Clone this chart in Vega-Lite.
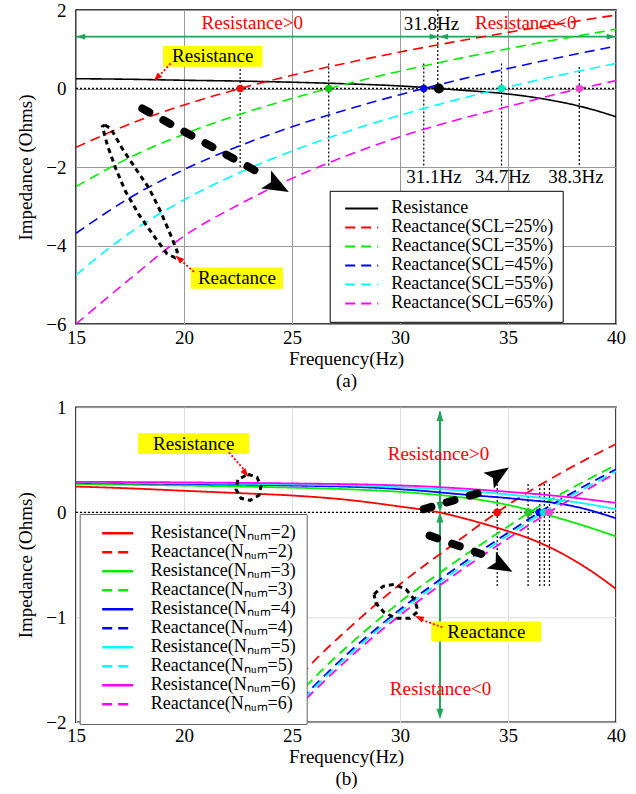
{
"$schema":"https://vega.github.io/schema/vega-lite/v6.json",
"padding":{"left":16,"top":0,"right":0,"bottom":0},
"background":"white",
"spacing":83.3,
"bounds":"flush",
"config":{"font":"Liberation Serif","view":{"stroke":"black","strokeWidth":1.5},
 "axis":{"labelFont":"Liberation Serif","labelFontSize":19,"labelColor":"black","titleFont":"Liberation Serif","titleFontSize":19,"titleFontWeight":"normal","titleColor":"black","domain":false,"ticks":false,"labelFlush":false},
 "legend":{"labelFont":"Liberation Serif","labelColor":"black","labelFontSize":18,"labelLimit":400}},
"resolve":{"scale":{"x":"independent","y":"independent","color":"independent","strokeDash":"independent","fill":"independent","angle":"independent"},"legend":{"color":"independent","strokeDash":"independent"}},
"vconcat":[
{
 "width":540,"height":314,
 "encoding":{
  "x":{"field":"f","type":"quantitative","scale":{"domain":[15,40],"nice":false,"zero":false},
   "axis":{"title":["Frequency(Hz)","(a)"],"values":[15,20,25,30,35,40],"grid":true,"gridColor":"#999999","labelPadding":4,"titlePadding":2,"titleLineHeight":22}},
  "y":{"field":"v","type":"quantitative","scale":{"domain":[-6,2],"nice":false,"zero":false},
   "axis":{"title":"Impedance (Ohms)","values":[-6,-4,-2,0,2],"grid":true,"gridColor":"#999999","labelPadding":10,"titlePadding":10}}
 },
 "layer":[
  {"data":{"values":[{"f":15,"f2":40,"v":0}]},"mark":{"type":"rule","color":"black","strokeDash":[2,2],"strokeWidth":1.3},"encoding":{"x2":{"field":"f2"}}},
  {"data":{"values":[{"f":22.6,"v":0.6,"v2":-2},{"f":26.7,"v":0.64,"v2":-2},{"f":31.1,"v":0.64,"v2":-2},{"f":31.75,"v":2,"v2":0},{"f":34.7,"v":0.64,"v2":-2},{"f":38.3,"v":0.55,"v2":-2}]},
   "mark":{"type":"rule","color":"black","strokeDash":[2,2],"strokeWidth":1.2},"encoding":{"y2":{"field":"v2"}}},
  {"data":{"values":[{"f":15,"f2":31.8,"v":1.32},{"f":31.8,"f2":40,"v":1.32}]},"mark":{"type":"rule","color":"#21a35a","strokeWidth":1.8},"encoding":{"x2":{"field":"f2"}}},
  {"data":{"values":[{"f":15.22,"v":1.32,"a":180},{"f":31.58,"v":1.32,"a":0},{"f":32.02,"v":1.32,"a":180},{"f":39.78,"v":1.32,"a":0}]},
   "mark":{"type":"point","shape":"M1,0L-1,-0.65L-1,0.65Z","filled":true,"color":"#21a35a","size":80,"opacity":1},
   "encoding":{"angle":{"field":"a","type":"quantitative","scale":{"domain":[0,360],"range":[0,360]}}}},
  {"data":{"values":[
   {"s":"Resistance","f":15,"v":0.25},{"s":"Resistance","f":17.5,"v":0.235},{"s":"Resistance","f":20,"v":0.21},{"s":"Resistance","f":22.5,"v":0.19},{"s":"Resistance","f":25,"v":0.16},{"s":"Resistance","f":27.5,"v":0.12},{"s":"Resistance","f":30,"v":0.065},{"s":"Resistance","f":31.8,"v":0},{"s":"Resistance","f":33,"v":-0.05},{"s":"Resistance","f":34,"v":-0.09},{"s":"Resistance","f":35,"v":-0.14},{"s":"Resistance","f":36,"v":-0.21},{"s":"Resistance","f":37,"v":-0.3},{"s":"Resistance","f":38,"v":-0.41},{"s":"Resistance","f":39,"v":-0.55},{"s":"Resistance","f":40,"v":-0.72},
   {"s":"Reactance(SCL=25%)","f":15,"v":-1.5},{"s":"Reactance(SCL=25%)","f":17.5,"v":-0.902},{"s":"Reactance(SCL=25%)","f":20,"v":-0.42},{"s":"Reactance(SCL=25%)","f":22.5,"v":-0.015},{"s":"Reactance(SCL=25%)","f":25,"v":0.336},{"s":"Reactance(SCL=25%)","f":27.5,"v":0.647},{"s":"Reactance(SCL=25%)","f":30,"v":0.929},{"s":"Reactance(SCL=25%)","f":32.5,"v":1.188},{"s":"Reactance(SCL=25%)","f":35,"v":1.429},{"s":"Reactance(SCL=25%)","f":37.5,"v":1.656},{"s":"Reactance(SCL=25%)","f":40,"v":1.871},
   {"s":"Reactance(SCL=35%)","f":15,"v":-2.5},{"s":"Reactance(SCL=35%)","f":17.5,"v":-1.755},{"s":"Reactance(SCL=35%)","f":20,"v":-1.163},{"s":"Reactance(SCL=35%)","f":22.5,"v":-0.673},{"s":"Reactance(SCL=35%)","f":25,"v":-0.254},{"s":"Reactance(SCL=35%)","f":27.5,"v":0.113},{"s":"Reactance(SCL=35%)","f":30,"v":0.441},{"s":"Reactance(SCL=35%)","f":32.5,"v":0.739},{"s":"Reactance(SCL=35%)","f":35,"v":1.014},{"s":"Reactance(SCL=35%)","f":37.5,"v":1.269},{"s":"Reactance(SCL=35%)","f":40,"v":1.51},
   {"s":"Reactance(SCL=45%)","f":15,"v":-3.69},{"s":"Reactance(SCL=45%)","f":17.5,"v":-2.782},{"s":"Reactance(SCL=45%)","f":20,"v":-2.065},{"s":"Reactance(SCL=45%)","f":22.5,"v":-1.476},{"s":"Reactance(SCL=45%)","f":25,"v":-0.977},{"s":"Reactance(SCL=45%)","f":27.5,"v":-0.543},{"s":"Reactance(SCL=45%)","f":30,"v":-0.157},{"s":"Reactance(SCL=45%)","f":32.5,"v":0.191},{"s":"Reactance(SCL=45%)","f":35,"v":0.509},{"s":"Reactance(SCL=45%)","f":37.5,"v":0.804},{"s":"Reactance(SCL=45%)","f":40,"v":1.08},
   {"s":"Reactance(SCL=55%)","f":15,"v":-4.75},{"s":"Reactance(SCL=55%)","f":17.5,"v":-3.674},{"s":"Reactance(SCL=55%)","f":20,"v":-2.837},{"s":"Reactance(SCL=55%)","f":22.5,"v":-2.159},{"s":"Reactance(SCL=55%)","f":25,"v":-1.592},{"s":"Reactance(SCL=55%)","f":27.5,"v":-1.106},{"s":"Reactance(SCL=55%)","f":30,"v":-0.681},{"s":"Reactance(SCL=55%)","f":32.5,"v":-0.302},{"s":"Reactance(SCL=55%)","f":35,"v":0.039},{"s":"Reactance(SCL=55%)","f":37.5,"v":0.352},{"s":"Reactance(SCL=55%)","f":40,"v":0.64},
   {"s":"Reactance(SCL=65%)","f":15,"v":-6.0},{"s":"Reactance(SCL=65%)","f":17.5,"v":-4.85},{"s":"Reactance(SCL=65%)","f":20,"v":-3.76},{"s":"Reactance(SCL=65%)","f":22.5,"v":-2.97},{"s":"Reactance(SCL=65%)","f":25,"v":-2.29},{"s":"Reactance(SCL=65%)","f":27.5,"v":-1.72},{"s":"Reactance(SCL=65%)","f":30,"v":-1.23},{"s":"Reactance(SCL=65%)","f":32.5,"v":-0.82},{"s":"Reactance(SCL=65%)","f":35,"v":-0.46},{"s":"Reactance(SCL=65%)","f":37.5,"v":-0.11},{"s":"Reactance(SCL=65%)","f":40,"v":0.2}
  ]},
   "mark":{"type":"line","interpolate":"monotone","strokeWidth":1.6,"clip":true},
   "encoding":{
    "color":{"field":"s","type":"nominal","scale":{"domain":["Resistance","Reactance(SCL=25%)","Reactance(SCL=35%)","Reactance(SCL=45%)","Reactance(SCL=55%)","Reactance(SCL=65%)"],"range":["#000000","#ff0000","#00ee00","#0000ff","#00ffff","#ff00ff"]},
     "legend":{"title":null,"orient":"none","legendX":253.7,"legendY":180.8,"padding":8.5,"strokeColor":"black","fillColor":"white","symbolType":"stroke","symbolSize":1089,"symbolStrokeWidth":2,"symbolOffset":6,"labelOffset":12,"clipHeight":18.3,"rowPadding":-1.6,"labelExpr":"datum.label + '\u00a0\u00a0\u00a0\u00a0\u00a0\u00a0\u00a0'"}},
    "strokeDash":{"field":"s","type":"nominal","scale":{"domain":["Resistance","Reactance(SCL=25%)","Reactance(SCL=35%)","Reactance(SCL=45%)","Reactance(SCL=55%)","Reactance(SCL=65%)"],"range":[[1,0],[10,6],[10,6],[10,6],[10,6],[10,6]]},
     "legend":{"title":null,"orient":"none","legendX":253.7,"legendY":180.8,"padding":8.5,"strokeColor":"black","fillColor":"white","symbolType":"stroke","symbolSize":1089,"symbolStrokeWidth":2,"symbolOffset":6,"labelOffset":12,"clipHeight":18.3,"rowPadding":-1.6,"labelExpr":"datum.label + '\u00a0\u00a0\u00a0\u00a0\u00a0\u00a0\u00a0'"}}
   }},
  {"data":{"values":[{"f":22.6,"v":0,"k":"r"},{"f":26.7,"v":0,"k":"g"},{"f":31.1,"v":0,"k":"b"},{"f":34.7,"v":0,"k":"c"},{"f":38.3,"v":0,"k":"m"}]},
   "mark":{"type":"point","filled":true,"size":55,"opacity":1},
   "encoding":{"fill":{"field":"k","type":"nominal","scale":{"domain":["r","g","b","c","m"],"range":["#ff0000","#00cc00","#0000ff","#00e8c0","#ee44cc"]},"legend":null}}},
  {"data":{"values":[{"f":31.8,"v":0}]},"mark":{"type":"point","filled":true,"size":100,"color":"black","opacity":1}},
  {"data":{"values":[{"f":23.16,"v":1.68,"t":"Resistance>0"},{"f":35.82,"v":1.68,"t":"Resistance<0"}]},
   "mark":{"type":"text","color":"#ff0000","fontSize":19,"align":"center","baseline":"middle"},"encoding":{"text":{"field":"t"}}},
  {"data":{"values":[{"f":31.46,"v":1.65,"t":"31.8Hz"},{"f":31.57,"v":-2.26,"t":"31.1Hz"},{"f":34.75,"v":-2.26,"t":"34.7Hz"},{"f":38.15,"v":-2.26,"t":"38.3Hz"}]},
   "mark":{"type":"text","color":"black","fontSize":19,"align":"center","baseline":"middle"},"encoding":{"text":{"field":"t"}}},
  {"data":{"values":[{"f":19.03,"f2":23.63,"v":0.552,"v2":1.085},{"f":20.31,"f2":24.58,"v":-4.56,"v2":-5.1}]},
   "mark":{"type":"rect","color":"#ffff00","opacity":1},"encoding":{"x2":{"field":"f2"},"y2":{"field":"v2"}}},
  {"data":{"values":[{"f":21.33,"v":0.82,"t":"Resistance"},{"f":22.45,"v":-4.83,"t":"Reactance"}]},
   "mark":{"type":"text","color":"black","fontSize":19,"align":"center","baseline":"middle"},"encoding":{"text":{"field":"t"}}},
  {"data":{"values":[{"f":19.38,"v":0.64,"f2":18.8,"v2":0.29},{"f":20.46,"v":-4.67,"f2":19.8,"v2":-4.35}]},
   "mark":{"type":"rule","color":"#ff0000","strokeDash":[2,2],"strokeWidth":1.8},"encoding":{"x2":{"field":"f2"},"y2":{"field":"v2"}}},
  {"data":{"values":[{"f":18.74,"v":0.27,"a":135},{"f":19.76,"v":-4.33,"a":221}]},
   "mark":{"type":"point","shape":"M1,0L-1,-0.7L-1,0.7Z","filled":true,"color":"#ff0000","size":80,"opacity":1},
   "encoding":{"angle":{"field":"a","type":"quantitative","scale":{"domain":[0,360],"range":[0,360]}}}},
  {"data":{"values":[{"f":18.07,"v":-0.51,"f2":23.56,"v2":-2.17}]},
   "mark":{"type":"rule","color":"black","strokeWidth":8,"strokeCap":"round","strokeDash":[8,16]},"encoding":{"x2":{"field":"f2"},"y2":{"field":"v2"}}},
  {"data":{"values":[{"f":24.3,"v":-2.47,"a":29}]},
   "mark":{"type":"point","shape":"M1,0L-0.9,-0.75L-0.5,0L-0.9,0.75Z","filled":true,"color":"black","size":750,"opacity":1},
   "encoding":{"angle":{"field":"a","type":"quantitative","scale":{"domain":[0,360],"range":[0,360]}}}},
  {"data":{"values":[
   {"o":1,"f":16.34,"v":-0.93},{"o":2,"f":16.61,"v":-1.02},{"o":3,"f":17.14,"v":-1.53},{"o":4,"f":17.76,"v":-2.04},{"o":5,"f":18.38,"v":-2.54},{"o":6,"f":18.92,"v":-3.14},{"o":7,"f":19.38,"v":-3.73},{"o":8,"f":19.69,"v":-4.16},{"o":9,"f":19.58,"v":-4.31},{"o":10,"f":19.21,"v":-4.21},{"o":11,"f":18.69,"v":-3.82},{"o":12,"f":17.92,"v":-3.22},{"o":13,"f":17.3,"v":-2.63},{"o":14,"f":16.84,"v":-2.04},{"o":15,"f":16.45,"v":-1.44},{"o":16,"f":16.22,"v":-0.97},{"o":17,"f":16.34,"v":-0.93}]},
   "mark":{"type":"line","color":"black","strokeWidth":3,"strokeDash":[5,4],"interpolate":"linear"},
   "encoding":{"order":{"field":"o","type":"quantitative"}}}
 ]
},
{
 "width":540,"height":315,
 "encoding":{
  "x":{"field":"f","type":"quantitative","scale":{"domain":[15,40],"nice":false,"zero":false},
   "axis":{"title":["Frequency(Hz)","(b)"],"values":[15,20,25,30,35,40],"grid":true,"gridColor":"#dddddd","labelPadding":4,"titlePadding":2,"titleLineHeight":22}},
  "y":{"field":"v","type":"quantitative","scale":{"domain":[-2,1],"nice":false,"zero":false},
   "axis":{"title":"Impedance (Ohms)","values":[-2,-1,0,1],"grid":true,"gridColor":"#dddddd","labelPadding":10,"titlePadding":10}}
 },
 "layer":[
  {"data":{"values":[{"f":15,"f2":40,"v":0}]},"mark":{"type":"rule","color":"black","strokeDash":[2,2],"strokeWidth":1.3},"encoding":{"x2":{"field":"f2"}}},
  {"data":{"values":[{"f":34.5,"v":0.27,"v2":-0.71},{"f":35.93,"v":0.27,"v2":-0.71},{"f":36.47,"v":0.27,"v2":-0.71},{"f":36.68,"v":0.27,"v2":-0.71},{"f":36.92,"v":0.27,"v2":-0.71}]},
   "mark":{"type":"rule","color":"black","strokeDash":[2,2],"strokeWidth":1.2},"encoding":{"y2":{"field":"v2"}}},
  {"data":{"values":[{"f":31.85,"v":0.96,"v2":0.02},{"f":31.85,"v":-0.02,"v2":-1.95}]},"mark":{"type":"rule","color":"#21a35a","strokeWidth":2},"encoding":{"y2":{"field":"v2"}}},
  {"data":{"values":[{"f":31.85,"v":0.92,"a":270},{"f":31.85,"v":0.048,"a":90},{"f":31.85,"v":-0.048,"a":270},{"f":31.85,"v":-1.92,"a":90}]},
   "mark":{"type":"point","shape":"M1,0L-1,-0.65L-1,0.65Z","filled":true,"color":"#21a35a","size":110,"opacity":1},
   "encoding":{"angle":{"field":"a","type":"quantitative","scale":{"domain":[0,360],"range":[0,360]}}}},
  {"data":{"values":[
   {"s":"Resistance(N\u2099\u1d64\u2098=2)","f":15,"v":0.245},{"s":"Resistance(N\u2099\u1d64\u2098=2)","f":17.5,"v":0.228},{"s":"Resistance(N\u2099\u1d64\u2098=2)","f":20,"v":0.205},{"s":"Resistance(N\u2099\u1d64\u2098=2)","f":22.5,"v":0.183},{"s":"Resistance(N\u2099\u1d64\u2098=2)","f":25,"v":0.16},{"s":"Resistance(N\u2099\u1d64\u2098=2)","f":27.5,"v":0.12},{"s":"Resistance(N\u2099\u1d64\u2098=2)","f":30,"v":0.055},{"s":"Resistance(N\u2099\u1d64\u2098=2)","f":31.8,"v":0},{"s":"Resistance(N\u2099\u1d64\u2098=2)","f":33,"v":-0.06},{"s":"Resistance(N\u2099\u1d64\u2098=2)","f":35,"v":-0.18},{"s":"Resistance(N\u2099\u1d64\u2098=2)","f":36,"v":-0.25},{"s":"Resistance(N\u2099\u1d64\u2098=2)","f":37,"v":-0.34},{"s":"Resistance(N\u2099\u1d64\u2098=2)","f":38,"v":-0.45},{"s":"Resistance(N\u2099\u1d64\u2098=2)","f":39,"v":-0.58},{"s":"Resistance(N\u2099\u1d64\u2098=2)","f":40,"v":-0.73},
   {"s":"Reactance(N\u2099\u1d64\u2098=2)","f":23.43,"v":-2.0},{"s":"Reactance(N\u2099\u1d64\u2098=2)","f":25,"v":-1.645},{"s":"Reactance(N\u2099\u1d64\u2098=2)","f":26.2,"v":-1.38},{"s":"Reactance(N\u2099\u1d64\u2098=2)","f":27.5,"v":-1.13},{"s":"Reactance(N\u2099\u1d64\u2098=2)","f":30,"v":-0.685},{"s":"Reactance(N\u2099\u1d64\u2098=2)","f":32.5,"v":-0.3},{"s":"Reactance(N\u2099\u1d64\u2098=2)","f":34.5,"v":0},{"s":"Reactance(N\u2099\u1d64\u2098=2)","f":35,"v":0.07},{"s":"Reactance(N\u2099\u1d64\u2098=2)","f":37.5,"v":0.38},{"s":"Reactance(N\u2099\u1d64\u2098=2)","f":40,"v":0.65},
   {"s":"Resistance(N\u2099\u1d64\u2098=3)","f":15,"v":0.27},{"s":"Resistance(N\u2099\u1d64\u2098=3)","f":20,"v":0.255},{"s":"Resistance(N\u2099\u1d64\u2098=3)","f":25,"v":0.235},{"s":"Resistance(N\u2099\u1d64\u2098=3)","f":27.5,"v":0.22},{"s":"Resistance(N\u2099\u1d64\u2098=3)","f":30,"v":0.195},{"s":"Resistance(N\u2099\u1d64\u2098=3)","f":32.5,"v":0.15},{"s":"Resistance(N\u2099\u1d64\u2098=3)","f":33.5,"v":0.125},{"s":"Resistance(N\u2099\u1d64\u2098=3)","f":34.5,"v":0.09},{"s":"Resistance(N\u2099\u1d64\u2098=3)","f":35,"v":0.07},{"s":"Resistance(N\u2099\u1d64\u2098=3)","f":36,"v":0.02},{"s":"Resistance(N\u2099\u1d64\u2098=3)","f":37,"v":-0.035},{"s":"Resistance(N\u2099\u1d64\u2098=3)","f":38,"v":-0.095},{"s":"Resistance(N\u2099\u1d64\u2098=3)","f":39,"v":-0.16},{"s":"Resistance(N\u2099\u1d64\u2098=3)","f":40,"v":-0.23},
   {"s":"Reactance(N\u2099\u1d64\u2098=3)","f":24.1,"v":-2.0},{"s":"Reactance(N\u2099\u1d64\u2098=3)","f":25,"v":-1.8},{"s":"Reactance(N\u2099\u1d64\u2098=3)","f":26.3,"v":-1.52},{"s":"Reactance(N\u2099\u1d64\u2098=3)","f":27.5,"v":-1.29},{"s":"Reactance(N\u2099\u1d64\u2098=3)","f":30,"v":-0.855},{"s":"Reactance(N\u2099\u1d64\u2098=3)","f":32.5,"v":-0.48},{"s":"Reactance(N\u2099\u1d64\u2098=3)","f":35,"v":-0.135},{"s":"Reactance(N\u2099\u1d64\u2098=3)","f":36,"v":0},{"s":"Reactance(N\u2099\u1d64\u2098=3)","f":37.5,"v":0.18},{"s":"Reactance(N\u2099\u1d64\u2098=3)","f":40,"v":0.45},
   {"s":"Resistance(N\u2099\u1d64\u2098=4)","f":15,"v":0.28},{"s":"Resistance(N\u2099\u1d64\u2098=4)","f":20,"v":0.27},{"s":"Resistance(N\u2099\u1d64\u2098=4)","f":25,"v":0.255},{"s":"Resistance(N\u2099\u1d64\u2098=4)","f":29,"v":0.232},{"s":"Resistance(N\u2099\u1d64\u2098=4)","f":31,"v":0.205},{"s":"Resistance(N\u2099\u1d64\u2098=4)","f":33,"v":0.168},{"s":"Resistance(N\u2099\u1d64\u2098=4)","f":35,"v":0.135},{"s":"Resistance(N\u2099\u1d64\u2098=4)","f":36,"v":0.115},{"s":"Resistance(N\u2099\u1d64\u2098=4)","f":37.3,"v":0.086},{"s":"Resistance(N\u2099\u1d64\u2098=4)","f":38.5,"v":0.035},{"s":"Resistance(N\u2099\u1d64\u2098=4)","f":40,"v":-0.057},
   {"s":"Reactance(N\u2099\u1d64\u2098=4)","f":24.4,"v":-2.0},{"s":"Reactance(N\u2099\u1d64\u2098=4)","f":25,"v":-1.87},{"s":"Reactance(N\u2099\u1d64\u2098=4)","f":27.5,"v":-1.36},{"s":"Reactance(N\u2099\u1d64\u2098=4)","f":30,"v":-0.925},{"s":"Reactance(N\u2099\u1d64\u2098=4)","f":32.5,"v":-0.545},{"s":"Reactance(N\u2099\u1d64\u2098=4)","f":35,"v":-0.195},{"s":"Reactance(N\u2099\u1d64\u2098=4)","f":36.45,"v":0},{"s":"Reactance(N\u2099\u1d64\u2098=4)","f":37.5,"v":0.13},{"s":"Reactance(N\u2099\u1d64\u2098=4)","f":40,"v":0.41},
   {"s":"Resistance(N\u2099\u1d64\u2098=5)","f":15,"v":0.285},{"s":"Resistance(N\u2099\u1d64\u2098=5)","f":20,"v":0.277},{"s":"Resistance(N\u2099\u1d64\u2098=5)","f":25,"v":0.265},{"s":"Resistance(N\u2099\u1d64\u2098=5)","f":29,"v":0.248},{"s":"Resistance(N\u2099\u1d64\u2098=5)","f":31,"v":0.23},{"s":"Resistance(N\u2099\u1d64\u2098=5)","f":33,"v":0.205},{"s":"Resistance(N\u2099\u1d64\u2098=5)","f":35,"v":0.17},{"s":"Resistance(N\u2099\u1d64\u2098=5)","f":37.3,"v":0.12},{"s":"Resistance(N\u2099\u1d64\u2098=5)","f":38.5,"v":0.085},{"s":"Resistance(N\u2099\u1d64\u2098=5)","f":40,"v":0.03},
   {"s":"Reactance(N\u2099\u1d64\u2098=5)","f":24.5,"v":-2.0},{"s":"Reactance(N\u2099\u1d64\u2098=5)","f":25,"v":-1.89},{"s":"Reactance(N\u2099\u1d64\u2098=5)","f":27.5,"v":-1.385},{"s":"Reactance(N\u2099\u1d64\u2098=5)","f":30,"v":-0.95},{"s":"Reactance(N\u2099\u1d64\u2098=5)","f":32.5,"v":-0.57},{"s":"Reactance(N\u2099\u1d64\u2098=5)","f":35,"v":-0.22},{"s":"Reactance(N\u2099\u1d64\u2098=5)","f":36.65,"v":0},{"s":"Reactance(N\u2099\u1d64\u2098=5)","f":37.5,"v":0.105},{"s":"Reactance(N\u2099\u1d64\u2098=5)","f":40,"v":0.39},
   {"s":"Resistance(N\u2099\u1d64\u2098=6)","f":15,"v":0.29},{"s":"Resistance(N\u2099\u1d64\u2098=6)","f":20,"v":0.285},{"s":"Resistance(N\u2099\u1d64\u2098=6)","f":25,"v":0.275},{"s":"Resistance(N\u2099\u1d64\u2098=6)","f":29,"v":0.262},{"s":"Resistance(N\u2099\u1d64\u2098=6)","f":31,"v":0.248},{"s":"Resistance(N\u2099\u1d64\u2098=6)","f":33,"v":0.225},{"s":"Resistance(N\u2099\u1d64\u2098=6)","f":35,"v":0.195},{"s":"Resistance(N\u2099\u1d64\u2098=6)","f":37.3,"v":0.155},{"s":"Resistance(N\u2099\u1d64\u2098=6)","f":38.5,"v":0.128},{"s":"Resistance(N\u2099\u1d64\u2098=6)","f":40,"v":0.089},
   {"s":"Reactance(N\u2099\u1d64\u2098=6)","f":24.65,"v":-2.0},{"s":"Reactance(N\u2099\u1d64\u2098=6)","f":25,"v":-1.92},{"s":"Reactance(N\u2099\u1d64\u2098=6)","f":27.5,"v":-1.415},{"s":"Reactance(N\u2099\u1d64\u2098=6)","f":30,"v":-0.98},{"s":"Reactance(N\u2099\u1d64\u2098=6)","f":32.5,"v":-0.6},{"s":"Reactance(N\u2099\u1d64\u2098=6)","f":35,"v":-0.25},{"s":"Reactance(N\u2099\u1d64\u2098=6)","f":36.9,"v":0},{"s":"Reactance(N\u2099\u1d64\u2098=6)","f":37.5,"v":0.075},{"s":"Reactance(N\u2099\u1d64\u2098=6)","f":40,"v":0.375}
  ]},
   "mark":{"type":"line","interpolate":"monotone","strokeWidth":1.8,"clip":true},
   "encoding":{
    "color":{"field":"s","type":"nominal","scale":{"domain":["Resistance(N\u2099\u1d64\u2098=2)","Reactance(N\u2099\u1d64\u2098=2)","Resistance(N\u2099\u1d64\u2098=3)","Reactance(N\u2099\u1d64\u2098=3)","Resistance(N\u2099\u1d64\u2098=4)","Reactance(N\u2099\u1d64\u2098=4)","Resistance(N\u2099\u1d64\u2098=5)","Reactance(N\u2099\u1d64\u2098=5)","Resistance(N\u2099\u1d64\u2098=6)","Reactance(N\u2099\u1d64\u2098=6)"],"range":["#ff0000","#ff0000","#00ee00","#00ee00","#0000ff","#0000ff","#00ffff","#00ffff","#ff00ff","#ff00ff"]},
     "legend":{"title":null,"orient":"none","legendX":3.7,"legendY":106.7,"padding":10,"strokeColor":"#666666","fillColor":"white","symbolType":"stroke","symbolSize":961,"symbolStrokeWidth":2.5,"symbolOffset":11,"labelOffset":16,"clipHeight":18.4,"rowPadding":-1.6}},
    "strokeDash":{"field":"s","type":"nominal","scale":{"domain":["Resistance(N\u2099\u1d64\u2098=2)","Reactance(N\u2099\u1d64\u2098=2)","Resistance(N\u2099\u1d64\u2098=3)","Reactance(N\u2099\u1d64\u2098=3)","Resistance(N\u2099\u1d64\u2098=4)","Reactance(N\u2099\u1d64\u2098=4)","Resistance(N\u2099\u1d64\u2098=5)","Reactance(N\u2099\u1d64\u2098=5)","Resistance(N\u2099\u1d64\u2098=6)","Reactance(N\u2099\u1d64\u2098=6)"],"range":[[1,0],[10,6],[1,0],[10,6],[1,0],[10,6],[1,0],[10,6],[1,0],[10,6]]},
     "legend":{"title":null,"orient":"none","legendX":3.7,"legendY":106.7,"padding":10,"strokeColor":"#666666","fillColor":"white","symbolType":"stroke","symbolSize":961,"symbolStrokeWidth":2.5,"symbolOffset":11,"labelOffset":16,"clipHeight":18.4,"rowPadding":-1.6}}
   }},
  {"data":{"values":[{"f":34.5,"v":0,"k":"r"},{"f":35.95,"v":0,"k":"g"},{"f":36.45,"v":0,"k":"b"},{"f":36.65,"v":0,"k":"c"},{"f":36.9,"v":0,"k":"m"}]},
   "mark":{"type":"point","filled":true,"size":60,"opacity":1},
   "encoding":{"fill":{"field":"k","type":"nominal","scale":{"domain":["r","g","b","c","m"],"range":["#ff0000","#22cc22","#0000ff","#00ddcc","#ee44cc"]},"legend":null}}},
  {"data":{"values":[{"f":31.78,"v":0.555,"t":"Resistance>0"},{"f":31.88,"v":-1.68,"t":"Resistance<0"}]},
   "mark":{"type":"text","color":"#ff0000","fontSize":19,"align":"center","baseline":"middle"},"encoding":{"text":{"field":"t"}}},
  {"data":{"values":[{"f":17.88,"f2":23.02,"v":0.555,"v2":0.752},{"f":31.45,"f2":36.54,"v":-1.041,"v2":-1.231}]},
   "mark":{"type":"rect","color":"#ffff00","opacity":1},"encoding":{"x2":{"field":"f2"},"y2":{"field":"v2"}}},
  {"data":{"values":[{"f":20.45,"v":0.654,"t":"Resistance"},{"f":34.0,"v":-1.136,"t":"Reactance"}]},
   "mark":{"type":"text","color":"black","fontSize":19,"align":"center","baseline":"middle"},"encoding":{"text":{"field":"t"}}},
  {"data":{"values":[{"f":22.08,"v":0.571,"f2":22.8,"v2":0.4},{"f":31.96,"v":-1.095,"f2":30.95,"v2":-1.02}]},
   "mark":{"type":"rule","color":"#ff0000","strokeDash":[2,2],"strokeWidth":1.8},"encoding":{"x2":{"field":"f2"},"y2":{"field":"v2"}}},
  {"data":{"values":[{"f":22.86,"v":0.37,"a":50},{"f":30.88,"v":-1.005,"a":203}]},
   "mark":{"type":"point","shape":"M1,0L-1,-0.7L-1,0.7Z","filled":true,"color":"#ff0000","size":80,"opacity":1},
   "encoding":{"angle":{"field":"a","type":"quantitative","scale":{"domain":[0,360],"range":[0,360]}}}},
  {"data":{"values":[{"f":31.1,"v":0.03,"f2":33.75,"v2":0.19},{"f":31.37,"v":-0.222,"f2":33.76,"v2":-0.397}]},
   "mark":{"type":"rule","color":"black","strokeWidth":8,"strokeCap":"round","strokeDash":[8,16]},"encoding":{"x2":{"field":"f2"},"y2":{"field":"v2"}}},
  {"data":{"values":[{"f":34.55,"v":0.36,"a":327},{"f":34.69,"v":-0.508,"a":29}]},
   "mark":{"type":"point","shape":"M1,0L-0.9,-0.75L-0.5,0L-0.9,0.75Z","filled":true,"color":"black","size":650,"opacity":1},
   "encoding":{"angle":{"field":"a","type":"quantitative","scale":{"domain":[0,360],"range":[0,360]}}}},
  {"data":{"values":[
   {"g":"s","o":1,"f":22.963,"v":0.362},{"g":"s","o":2,"f":23.38,"v":0.333},{"g":"s","o":3,"f":23.565,"v":0.248},{"g":"s","o":4,"f":23.472,"v":0.162},{"g":"s","o":5,"f":23.056,"v":0.114},{"g":"s","o":6,"f":22.639,"v":0.133},{"g":"s","o":7,"f":22.407,"v":0.219},{"g":"s","o":8,"f":22.5,"v":0.314},{"g":"s","o":9,"f":22.963,"v":0.362},
   {"g":"l","o":1,"f":28.796,"v":-0.781},{"g":"l","o":2,"f":29.213,"v":-0.705},{"g":"l","o":3,"f":29.722,"v":-0.686},{"g":"l","o":4,"f":30.278,"v":-0.733},{"g":"l","o":5,"f":30.694,"v":-0.838},{"g":"l","o":6,"f":30.833,"v":-0.943},{"g":"l","o":7,"f":30.463,"v":-1.01},{"g":"l","o":8,"f":29.815,"v":-1.01},{"g":"l","o":9,"f":29.259,"v":-0.952},{"g":"l","o":10,"f":28.889,"v":-0.867},{"g":"l","o":11,"f":28.796,"v":-0.781}]},
   "mark":{"type":"line","color":"black","strokeWidth":3,"strokeDash":[5,4],"interpolate":"linear"},
   "encoding":{"order":{"field":"o","type":"quantitative"},"detail":{"field":"g","type":"nominal"}}}
 ]
}
]
}
